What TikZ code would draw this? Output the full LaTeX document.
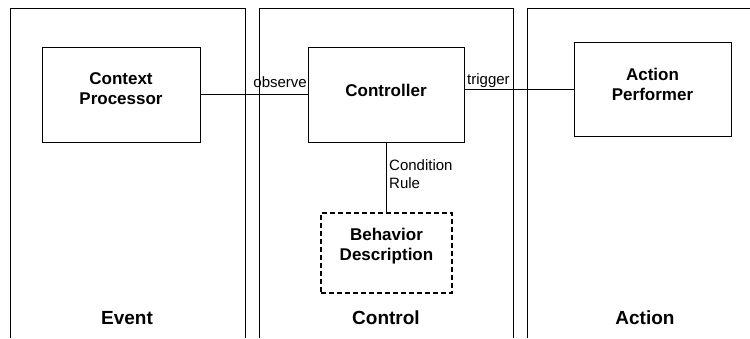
\documentclass[tikz,border=0pt]{standalone}
\usepackage{fontspec}
\setmainfont{Liberation Sans}
\begin{document}
\begin{tikzpicture}[x=1pt,y=-1pt,
  panel/.style={line width=0.9pt},
  box/.style={draw,line width=0.9pt,rectangle,inner sep=0pt},
  boxtext/.style={font=\fontsize{17}{20}\selectfont\bfseries,align=center,inner sep=0pt},
  paneltext/.style={font=\fontsize{19}{22}\selectfont\bfseries,inner sep=0pt,anchor=base},
  conntext/.style={font=\fontsize{15}{18}\selectfont,inner sep=0pt},
  conn/.style={line width=0.8pt}]
\useasboundingbox (0,0) rectangle (750,338);
% panels
\draw[panel] (10,338) -- (10,8) -- (245,8) -- (245,338);
\draw[panel] (259,338) -- (259,8) -- (513,8) -- (513,338);
\draw[panel] (527,338) -- (527,8) -- (751,8);
\node[paneltext] (pev) at (127,324) {Event};
\node[paneltext] (pct) at (386,324) {Control};
\node[paneltext] (pac) at (645,324) {Action};
% boxes
\node[box,minimum width=158pt,minimum height=95pt] (ctx) at (121,94.5) {};
\node[boxtext] (ctxt) at (121,89) {Context\\Processor};
\node[box,minimum width=156pt,minimum height=95pt] (ctrl) at (386,94.5) {};
\node[boxtext] (ctrlt) at (386,90) {Controller};
\node[box,minimum width=157pt,minimum height=94pt] (act) at (652.5,89) {};
\node[boxtext] (actt) at (652.5,84) {Action\\Performer};
\node[box,line width=1.3pt,dash pattern=on 5pt off 3pt,minimum width=131pt,minimum height=80pt] (beh) at (386.5,253) {};
\node[boxtext] (beht) at (386.5,246) {Behavior\\Description};
% connectors
\draw[conn] (ctx.east) -- (ctrl.west);
\draw[conn] (act.west -| ctrl.east) -- (act.west);
\draw[conn] (ctrl.south) -- (ctrl.south |- beh.north);
\node[conntext,anchor=base east] (lobs) at (307,87) {observe};
\node[conntext,anchor=base west] (ltrg) at (467,84) {trigger};
\node[conntext,anchor=north west,align=left] (lcond) at (389,159) {Condition\\Rule};
\end{tikzpicture}
\end{document}
